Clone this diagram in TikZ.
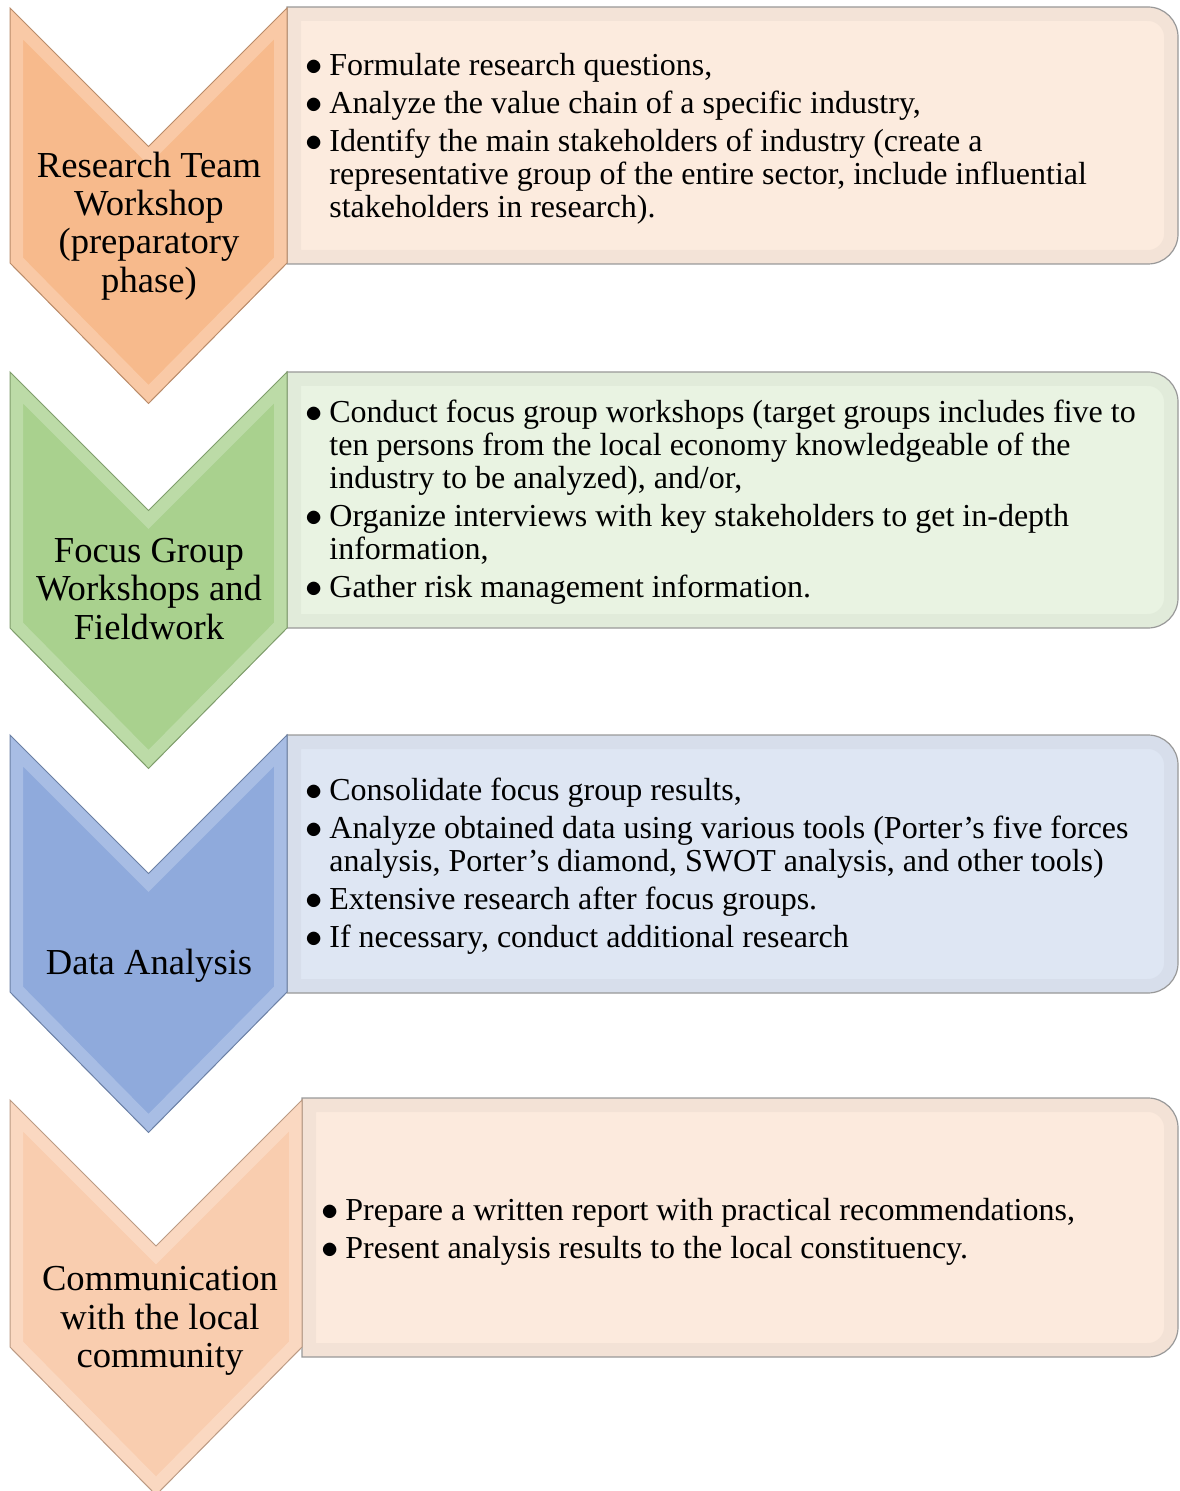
\documentclass[tikz,border=0pt]{standalone}
\usepackage{fontspec}
\setmainfont{Liberation Serif}

\definecolor{chevA}{RGB}{247,186,140}
\definecolor{chevB}{RGB}{169,209,142}
\definecolor{chevC}{RGB}{143,170,220}
\definecolor{chevD}{RGB}{249,205,175}
\definecolor{boxA}{RGB}{252,235,222}
\definecolor{boxB}{RGB}{233,243,226}
\definecolor{boxC}{RGB}{222,230,243}
\definecolor{boxD}{RGB}{252,234,221}

\tikzset{
  stagelabel/.style={align=center, inner sep=0pt, font=\fontsize{18.3}{19.2}\selectfont},
  tasklist/.style={anchor=west, align=left, inner sep=0pt, font=\fontsize{16}{16.5}\selectfont},
}
% bullet and hanging continuation line
\newcommand{\itm}{\makebox[12pt][l]{$\bullet$}}
\newcommand{\cont}{\\\hspace*{12pt}}

\begin{document}
\begin{tikzpicture}[x=0.5pt,y=-0.5pt]
\useasboundingbox (0,0) rectangle (1179,1491);

% task boxes, rounded on the right only
\foreach \yt/\yb/\xl/\col in {7/264/287/boxA,372/628/287/boxB,735/993/287/boxC,1098/1357/302/boxD}{
  \path[save path=\boxpath] (\xl,\yt) -- (1148,\yt)
    arc[start angle=90,end angle=0,radius=15pt] -- (1178,\yb-30)
    arc[start angle=0,end angle=-90,radius=15pt] -- (\xl,\yb) -- cycle;
  \fill[\col][use path=\boxpath];
  \begin{scope}
    \clip[use path=\boxpath];
    \draw[line width=14pt,\col!93!black,opacity=0.45][use path=\boxpath];
  \end{scope}
  \draw[black!40,line width=0.6pt][use path=\boxpath];
}

% chevrons
\foreach \yt/\h/\s/\col in {8/138.5/255/chevA,372/138.5/256/chevB,735/138.5/257/chevC,1100/146/247/chevD}{
  \path[save path=\chevpath] (10,\yt) -- ++(\h,\h) -- ++(\h,-\h) -- ++(0,\s)
    -- ++(-\h,\h+2) -- ++(-\h,-\h-2) -- cycle;
  \fill[\col][use path=\chevpath];
  \begin{scope}
    \clip[use path=\chevpath];
    \draw[line width=13pt,\col!55!white,opacity=0.5][use path=\chevpath];
  \end{scope}
  \draw[\col!75!black,line width=0.5pt][use path=\chevpath];
}

% stage names
\node[stagelabel] (lab1) at (149,226) {Research Team\\Workshop\\(preparatory\\phase)};
\node[stagelabel] (lab2) at (149,589) {Focus Group\\Workshops and\\Fieldwork};
\node[stagelabel] (lab3) at (149,966) {Data Analysis};
\node[stagelabel] (lab4) at (160,1321) {Communication\\with the local\\community};

% tasks of each stage
\node[tasklist] (task1) at (305,139) {%
  \itm Formulate research questions,\\[2.5pt]
  \itm Analyze the value chain of a specific industry,\\[2.5pt]
  \itm Identify the main stakeholders of industry (create a\cont
  representative group of the entire sector, include influential\cont
  stakeholders in research).};
\node[tasklist] (task2) at (305,502) {%
  \itm Conduct focus group workshops (target groups includes five to\cont
  ten persons from the local economy knowledgeable of the\cont
  industry to be analyzed), and/or,\\[2.5pt]
  \itm Organize interviews with key stakeholders to get in-depth\cont
  information,\\[2.5pt]
  \itm Gather risk management information.};
\node[tasklist] (task3) at (305,866) {%
  \itm Consolidate focus group results,\\[2.5pt]
  \itm Analyze obtained data using various tools (Porter’s five forces\cont
  analysis, Porter’s diamond, SWOT analysis, and other tools)\\[2.5pt]
  \itm Extensive research after focus groups.\\[2.5pt]
  \itm If necessary, conduct additional research};
\node[tasklist] (task4) at (321,1232) {%
  \itm Prepare a written report with practical recommendations,\\[2.5pt]
  \itm Present analysis results to the local constituency.};
\end{tikzpicture}
\end{document}
